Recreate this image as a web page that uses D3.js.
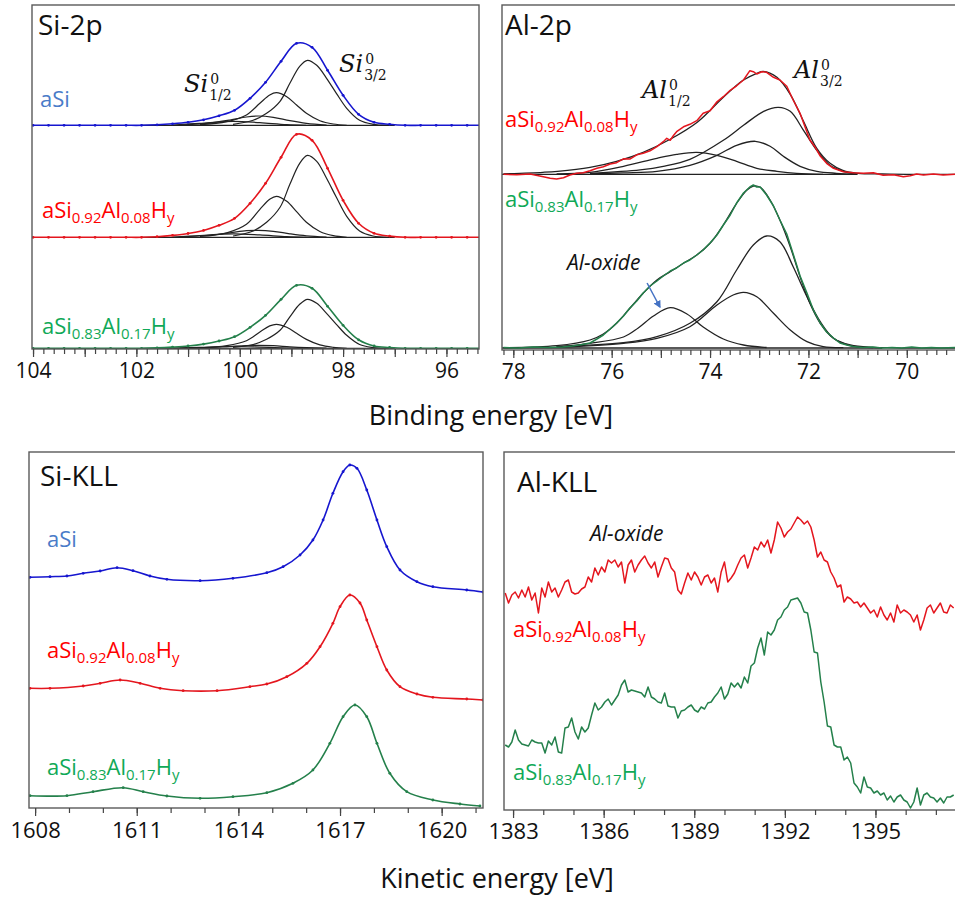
<!DOCTYPE html>
<html>
<head>
<meta charset="utf-8">
<script src="https://cdn.jsdelivr.net/npm/d3@7"></script>
<style>
  body { margin: 0; background: #fff; }
  text { font-family: "Open Sans", sans-serif; }
</style>
</head>
<body>
<div class="xps-viz"></div>
<script>
// ---------- Si-2p (binding energy, eV; intensity above each baseline, a.u.) ----------
const si2pEnergy = [104.0, 103.7, 103.4, 103.1, 102.8, 102.5, 102.2, 101.9, 101.6, 101.3, 101.0, 100.7, 100.4, 100.1, 99.8,
  99.5, 99.2, 98.9, 98.6, 98.3, 98.0, 97.7, 97.4, 97.1, 96.8, 96.5, 96.2, 95.9, 95.6, 95.3];
const si2pASi = [0, 0, 0, 0, 0, 0, 0, 0, 0.5, 1.5, 3, 5.5, 9.5, 15, 27, 43, 64, 82, 78, 55, 30, 11, 3, 1, 0, 0, 0, 0, 0, 0];
const si2pAl08 = [0, 0, 0, 0, 0, 0, 0, 0, 0.6, 1.9, 3.8, 6.9, 12, 19, 34, 54, 80, 103, 97, 69, 37, 14, 4, 1.2, 0, 0, 0, 0, 0, 0];
const si2pAl17 = [0, 0, 0, 0, 0, 0, 0, 0, 0.4, 1.2, 2.3, 4.2, 7.3, 11.6, 21, 33, 49, 63, 60, 42, 23, 8.5, 2.3, 0.8, 0, 0, 0, 0, 0, 0];
const si2pOffsets = [223.7, 111.7, 0.7];

const si32Energy = [100.13, 99.74, 99.48, 99.22, 99.03, 98.84, 98.69, 98.51, 98.32, 98.13, 97.93, 97.68, 97.42, 97.16];
const si32ASi = [1, 5, 12, 24, 42, 59, 65, 60, 47, 32, 17, 5, 1, 0];
const si32Al08 = [1.3, 6.3, 15, 30, 53, 74, 82, 76, 59, 40, 21, 6.3, 1.3, 0];
const si32Al17 = [0.8, 3.8, 9, 18, 31.5, 44, 49, 45, 35, 24, 13, 3.8, 0.8, 0];

const si12Energy = [100.77, 100.25, 99.87, 99.61, 99.42, 99.29, 99.09, 98.90, 98.71, 98.45, 98.19, 97.93];
const si12ASi = [0.6, 3.6, 10.3, 22, 30.3, 32.6, 28.6, 20.3, 12, 4.6, 1.3, 0];
const si12Al08 = [0.8, 4.5, 13, 28, 38, 41, 36, 25.6, 15, 5.8, 1.6, 0];
const si12Al17 = [0.4, 2.7, 7.6, 16.3, 22.4, 24, 21, 15, 8.9, 3.4, 1, 0];

const siMinorAEnergy = [101.16, 100.64, 100.19, 99.87, 99.64, 99.35, 99.03, 98.71, 98.32];
const siMinorAASi = [0.3, 2, 5.3, 8.3, 9.3, 8, 4.6, 2, 0.3];
const siMinorAAl08 = [0.3, 1.8, 4.5, 6.6, 7, 6, 3.5, 1.5, 0.3];
const siMinorAAl17 = [0.1, 0.8, 2, 2.8, 3, 2.6, 1.5, 0.7, 0.1];

const siMinorBEnergy = [101.29, 100.77, 100.13, 99.61, 99.09, 98.71];
const siMinorBASi = [0.3, 2, 4, 2.6, 0.6, 0];
const siMinorBAl08 = [0.3, 1.8, 3.5, 2.4, 0.6, 0];
const siMinorBAl17 = [0.2, 1, 1.8, 1.2, 0.3, 0];
const siFitBaseEnergy = [101.9, 97.0];

// ---------- Al-2p ----------
const al2pAl08Energy = [78.20, 77.93, 77.66, 77.39, 77.25, 77.12, 76.98, 76.85, 76.71, 76.58, 76.44, 76.30, 76.17, 76.03, 75.90,
  75.76, 75.63, 75.49, 75.36, 75.22, 75.08, 74.95, 74.88, 74.81, 74.74, 74.68, 74.54, 74.41, 74.27, 74.14, 74.00, 73.86, 73.73,
  73.59, 73.46, 73.32, 73.19, 73.12, 73.05, 72.95, 72.85, 72.71, 72.58, 72.44, 72.31, 72.17, 72.07, 71.97, 71.87, 71.76, 71.63,
  71.49, 71.29, 71.09, 70.88, 70.68, 70.48, 70.27, 70.07, 69.93, 69.80, 69.66, 69.46, 69.26, 69.02];
const al2pAl08 = [0, -0.4, 0.3, -2.4, -4, -4.7, -3.4, -0.7, 1, 1.6, 3.6, 6, 7.6, 10.3, 11.6, 15.5, 15.2, 19.5, 21, 23.5, 27.6,
  32.6, 36, 34, 39, 42.6, 47.5, 50, 53.6, 61, 63.5, 72.5, 77.6, 84, 88.5, 94.3, 103.6, 102.6, 100.3, 102.6, 102, 97, 94.3, 88,
  74.3, 61, 47.6, 34.3, 27.6, 18.3, 11, 6, 2.6, 1.6, 1, 1.6, -1, -0.4, -2.4, -1.4, 0.3, -0.7, 0.3, -0.7, 0];
const al2pAl08FitEnergy = [78.20, 77.40, 77.10, 76.44, 75.90, 75.36, 74.81, 74.26, 73.73, 73.33, 73.05, 72.92, 72.64, 72.37,
  72.10, 71.83, 71.56, 71.30, 71.00, 70.50, 70.00, 69.02];
const al2pAl08Fit = [0.5, 2, 3, 7, 13, 22, 35, 52, 77, 94, 101, 103, 97, 80, 53, 26, 11, 4, 1, 0.3, 0, 0];
const al32Al08Energy = [76.44, 75.42, 74.95, 74.41, 73.73, 73.32, 72.91, 72.61, 72.37, 72.10, 71.83, 71.56, 71.29, 71.02];
const al32Al08 = [1, 4.5, 8, 15, 34, 49, 63, 67, 63, 44, 24, 9, 3, 0];
const al12Al08Energy = [76.44, 75.76, 75.08, 74.41, 73.86, 73.46, 73.08, 72.78, 72.51, 72.17, 71.83, 71.43, 71.02];
const al12Al08 = [0.5, 1.5, 3, 9, 19, 29, 33, 28, 18, 8, 3, 1, 0];
const alOxAl08Energy = [77.12, 76.44, 75.76, 75.08, 74.68, 74.27, 73.86, 73.46, 73.05, 72.64, 72.24, 71.70];
const alOxAl08 = [0.5, 2, 8, 16, 20, 22, 19, 13, 6, 3, 1, 0];

const al2pAl17Energy = [78.20, 77.90, 77.60, 77.30, 77.00, 76.80, 76.60, 76.44, 76.30, 76.17, 76.03, 75.90, 75.76, 75.63, 75.49,
  75.36, 75.22, 75.08, 74.95, 74.81, 74.68, 74.54, 74.41, 74.27, 74.14, 74.00, 73.86, 73.73, 73.59, 73.46, 73.32, 73.19, 73.12,
  73.05, 72.98, 72.85, 72.71, 72.58, 72.44, 72.31, 72.17, 72.03, 71.90, 71.76, 71.63, 71.49, 71.36, 71.22, 71.09, 70.90, 70.70,
  70.50, 70.30, 70.10, 69.90, 69.70, 69.50, 69.30, 69.02];
const al2pAl17 = [0.5, 0, 1, 0.5, 1, 2, 3.5, 5, 9, 13, 19, 25, 32, 40, 47, 55, 62, 67, 72, 77, 80, 85, 88, 93, 98, 105, 113, 123,
  133, 145, 155, 161, 163, 161, 161, 153, 142, 128, 114, 94, 72, 55, 38, 25, 16, 10, 5, 3, 1.5, 0.5, 1, 0, 0.5, 0, 1, 0, 0.5, 0, 0.5];
const al2pAl17FitEnergy = [78.20, 77.12, 76.44, 76.17, 75.90, 75.63, 75.36, 75.08, 74.81, 74.54, 74.27, 74.00, 73.73, 73.46,
  73.25, 73.12, 72.98, 72.78, 72.58, 72.37, 72.17, 71.97, 71.76, 71.49, 71.15, 70.68, 69.02];
const al2pAl17Fit = [0.3, 2.3, 8, 14, 24.7, 39.7, 54.7, 68, 76.3, 84.7, 93, 104.7, 123, 144.7, 158, 162, 160.7, 148, 128, 101.3,
  71.3, 44.7, 24.7, 9.7, 3, 0.7, 0];
const al32Al17Energy = [77.12, 75.76, 75.08, 74.41, 73.86, 73.46, 73.12, 72.85, 72.58, 72.31, 72.03, 71.76, 71.49, 71.15, 70.68];
const al32Al17 = [1.3, 5.3, 11.3, 24.7, 46.3, 78, 103, 112, 106.3, 81.3, 51.3, 26.3, 9.7, 2.3, 0.3];
const al12Al17Energy = [77.12, 75.76, 75.08, 74.41, 73.86, 73.53, 73.32, 73.05, 72.71, 72.37, 72.03, 71.70, 71.29];
const al12Al17 = [0.7, 4.7, 9.7, 21.3, 43, 53, 55.7, 51.3, 34.7, 18, 6.3, 1.3, 0.3];
const alOxAl17Energy = [77.12, 76.44, 75.76, 75.46, 75.15, 74.81, 74.47, 74.14, 73.73, 73.32, 72.85];
const alOxAl17 = [1.3, 4.7, 11, 20, 32, 40.3, 34, 21, 9, 3, 0.5];
const al2pOffsets = [175.7, 2];

// ---------- Si-KLL (kinetic energy, eV; intensity a.u.) ----------
const siKllASiEnergy = [1607.85, 1608.44, 1608.94, 1609.42, 1609.92, 1610.42, 1610.89, 1611.39, 1611.89, 1612.87, 1613.84,
  1614.84, 1615.32, 1615.82, 1616.2, 1616.5, 1616.79, 1617.09, 1617.29, 1617.5, 1617.79, 1618.09, 1618.38, 1618.77, 1619.27,
  1619.74, 1620.74, 1621.22];
const siKllASi = [230.7, 231.3, 232, 234.7, 237, 240.3, 237.3, 232, 228.7, 227.3, 229.7, 235.3, 241.3, 253, 268, 288, 314.7,
  336.3, 343, 339.7, 318, 288, 261.3, 238, 226.3, 221.3, 218, 216];
const siKllAl08Energy = [1607.85, 1608.44, 1609.42, 1609.92, 1610.51, 1611.10, 1611.69, 1612.37, 1613.37, 1614.34, 1614.84,
  1615.43, 1616.02, 1616.41, 1616.79, 1617.00, 1617.29, 1617.59, 1617.79, 1618.09, 1618.38, 1618.77, 1619.27, 1619.74, 1620.74, 1621.22];
const siKllAl08 = [119.7, 119.7, 122, 124.7, 128, 124.7, 119.7, 117.3, 117.3, 121.3, 124, 131.3, 144.7, 161.3, 184.7, 201.3, 213,
  205, 188, 161.3, 138, 121.3, 114, 110.7, 109, 108];
const siKllAl17Energy = [1607.85, 1608.94, 1609.71, 1610.60, 1611.19, 1611.89, 1612.87, 1613.84, 1614.84, 1615.61, 1616.20,
  1616.70, 1617.09, 1617.44, 1617.79, 1618.09, 1618.47, 1618.97, 1619.74, 1620.54, 1621.13];
const siKllAl17 = [12.3, 12.3, 16.3, 20.3, 16.3, 12, 9.7, 11.3, 15.3, 24.7, 38, 64.7, 91.3, 103, 91.3, 64.7, 34.7, 16.3, 8, 4, 2];

// ---------- Al-KLL ----------
const alKllEnergy = [1382.74, 1382.85, 1382.96, 1383.07, 1383.18, 1383.29, 1383.40, 1383.51, 1383.62, 1383.73,
  1383.84, 1383.95, 1384.06, 1384.17, 1384.28, 1384.39, 1384.50, 1384.61, 1384.72, 1384.83,
  1384.94, 1385.05, 1385.16, 1385.27, 1385.38, 1385.49, 1385.60, 1385.71, 1385.82, 1385.93,
  1386.04, 1386.15, 1386.26, 1386.37, 1386.48, 1386.59, 1386.70, 1386.81, 1386.92, 1387.03,
  1387.14, 1387.25, 1387.36, 1387.47, 1387.58, 1387.69, 1387.80, 1387.91, 1388.02, 1388.13,
  1388.24, 1388.35, 1388.46, 1388.57, 1388.68, 1388.79, 1388.90, 1389.01, 1389.12, 1389.23,
  1389.34, 1389.45, 1389.56, 1389.67, 1389.78, 1389.89, 1390.00, 1390.11, 1390.22, 1390.33,
  1390.44, 1390.55, 1390.66, 1390.77, 1390.88, 1390.99, 1391.10, 1391.21, 1391.32, 1391.43,
  1391.54, 1391.65, 1391.76, 1391.87, 1391.98, 1392.09, 1392.20, 1392.31, 1392.42, 1392.53,
  1392.64, 1392.75, 1392.86, 1392.97, 1393.08, 1393.19, 1393.30, 1393.41, 1393.52, 1393.63,
  1393.74, 1393.85, 1393.96, 1394.07, 1394.18, 1394.29, 1394.40, 1394.51, 1394.62, 1394.73,
  1394.84, 1394.95, 1395.06, 1395.17, 1395.28, 1395.39, 1395.50, 1395.61, 1395.72, 1395.83,
  1395.94, 1396.05, 1396.16, 1396.27, 1396.38, 1396.49, 1396.60, 1396.71, 1396.82, 1396.93,
  1397.04, 1397.15, 1397.26, 1397.37, 1397.48, 1397.59];
const alKllAl08 = [217, 207, 215, 218, 212, 220, 213, 223, 210, 217, 197, 222, 213, 228, 218, 222, 213, 220, 228, 230,
  218, 216, 217, 221, 223, 233, 228, 242, 235, 243, 238, 250, 247, 250, 243, 248, 227, 245, 250, 238,
  245, 250, 254, 247, 242, 248, 233, 243, 252, 251, 242, 238, 220, 216, 227, 237, 230, 238, 233, 225,
  233, 235, 227, 232, 218, 238, 248, 228, 232, 237, 245, 252, 255, 242, 252, 263, 260, 268, 263, 270,
  257, 270, 288, 282, 273, 278, 281, 287, 293, 290, 286, 289, 283, 270, 253, 258, 250, 248, 238, 232,
  223, 225, 208, 213, 211, 207, 208, 203, 207, 202, 197, 200, 193, 203, 195, 190, 197, 188, 205, 197,
  200, 198, 195, 188, 195, 180, 190, 202, 205, 197, 202, 207, 198, 197, 205, 202];
const alKllAl17 = [65, 63, 68, 80, 70, 66, 65, 64, 70, 68, 67, 67, 57, 69, 65, 73, 58, 57, 82, 83,
  92, 78, 71, 83, 78, 82, 95, 107, 100, 103, 108, 111, 105, 110, 115, 125, 130, 118, 120, 119,
  118, 117, 113, 123, 113, 111, 108, 107, 117, 104, 103, 103, 92, 99, 100, 103, 105, 100, 98, 103,
  101, 107, 108, 113, 117, 123, 111, 116, 127, 123, 127, 122, 133, 127, 144, 147, 162, 172, 155, 178,
  175, 180, 190, 193, 200, 203, 210, 211, 212, 207, 198, 197, 180, 158, 157, 128, 108, 84, 83, 65,
  63, 63, 50, 53, 47, 27, 23, 17, 33, 23, 22, 17, 19, 15, 17, 10, 14, 8, 13, 15,
  10, 8, 2, 8, 22, 5, 15, 17, 13, 12, 8, 12, 7, 13, 13, 15];

// tick labels
const si2pTicks = [104, 102, 100, 98, 96];
const al2pTicks = [78, 76, 74, 72, 70];
const siKllTicks = [1608, 1611, 1614, 1617, 1620];
const alKllTicks = [1383, 1386, 1389, 1392, 1395];

const blue = "#1616cf", red = "#e4161e", green = "#24804b";
const labelBlue = "#4a7bc8", labelRed = "#ff0000", labelGreen = "#10a957";

const svg = d3.select(".xps-viz")
  .append("svg")
  .attr("width", 955)
  .attr("height", 901);

const pairs = (xs, ys) => xs.map((v, i) => [v, ys[i]]);

function makePanel(left, right, top, bottom, xDomain) {
  const x = d3.scaleLinear().domain(xDomain).range([left, right]);
  const y = d3.scaleLinear().domain([0, bottom - top]).range([bottom, top]);
  const id = "clip" + Math.round(left) + Math.round(top);
  svg.append("clipPath").attr("id", id)
    .append("rect").attr("x", left).attr("y", top).attr("width", right - left).attr("height", bottom - top);
  const g = svg.append("g").attr("clip-path", `url(#${id})`);
  return { x, y, g, left, right, top, bottom };
}

function curve(p, xs, ys, offset, color, width, smooth, dots) {
  const data = pairs(xs, ys);
  const line = d3.line()
    .x(d => p.x(d[0]))
    .y(d => p.y(d[1] + offset))
    .curve(smooth ? d3.curveCatmullRom.alpha(0.5) : d3.curveLinear);
  p.g.append("path")
    .datum(data)
    .attr("d", line)
    .attr("fill", "none")
    .attr("stroke", color)
    .attr("stroke-width", width)
    .attr("stroke-linejoin", "round");
  if (dots) {
    p.g.selectAll(null)
      .data(data)
      .enter()
      .append("circle")
      .attr("cx", d => p.x(d[0]))
      .attr("cy", d => p.y(d[1] + offset))
      .attr("r", 1.4)
      .attr("fill", color);
  }
}

function frame(p, right) {
  svg.append("rect")
    .attr("x", p.left).attr("y", p.top)
    .attr("width", (right || p.right) - p.left).attr("height", p.bottom - p.top)
    .attr("fill", "none").attr("stroke", "#5a5a5a").attr("stroke-width", 1.4);
}

function axis(p, minor, major, labels, fontSize, pad) {
  const a = svg.append("g").attr("transform", `translate(0,${p.bottom})`);
  a.append("g").call(d3.axisBottom(p.x).tickValues(minor).tickSize(5).tickFormat(""));
  a.append("g").call(d3.axisBottom(p.x).tickValues(major).tickSize(8).tickFormat(""));
  a.append("g").call(d3.axisBottom(p.x).tickValues(labels).tickSize(0).tickPadding(pad).tickFormat(d3.format("d")))
    .selectAll("text")
    .style("font-size", fontSize + "px")
    .style("font-family", '"Open Sans", sans-serif')
    .attr("fill", "#111");
  a.selectAll(".domain").remove();
  a.selectAll("line").attr("stroke", "#444").attr("stroke-width", 1.2);
}

function title(xp, yp, txt) {
  svg.append("text").attr("x", xp).attr("y", yp).style("font-size", "28px").attr("fill", "#111").text(txt);
}

// sample label like aSi0.92Al0.08Hy with subscripts
function sample(xp, yp, parts, color) {
  const t = svg.append("text").attr("x", xp).attr("y", yp).attr("fill", color).style("font-size", "22px");
  let low = false;
  parts.forEach(([s, sub]) => {
    const dy = sub && !low ? 5 : (!sub && low ? -5 : 0);
    low = sub;
    t.append("tspan").attr("dy", dy).style("font-size", sub ? "15px" : "22px").text(s);
  });
}
const labelASi = [["aSi", false]];
const labelAl08 = [["aSi", false], ["0.92", true], ["Al", false], ["0.08", true], ["H", false], ["y", true]];
const labelAl17 = [["aSi", false], ["0.83", true], ["Al", false], ["0.17", true], ["H", false], ["y", true]];

// peak label like Si^0_{1/2}: one text, sup and sub stacked with tspans
function peakName(xp, yp, base, sub) {
  const t = svg.append("text").attr("x", xp).attr("y", yp)
    .style("font-family", '"DejaVu Serif", serif').attr("fill", "#111");
  t.append("tspan").style("font-style", "italic").style("font-size", "24px").text(base);
  const w = t.node().getComputedTextLength();
  t.append("tspan").attr("x", xp + w + 2).attr("dy", -8).style("font-size", "14px").text("0");
  t.append("tspan").attr("x", xp + w + 1).attr("dy", 16).style("font-size", "14px").text(sub);
}

function italicNote(xp, yp, txt) {
  svg.append("text").attr("x", xp).attr("y", yp).style("font-size", "21px").style("font-style", "italic")
    .attr("fill", "#111").text(txt);
}

// ---------------- Si-2p ----------------
const pA = makePanel(32, 479, 5, 349, [104.02, 95.37]);
const siComps = [
  [si32ASi, si12ASi, siMinorAASi, siMinorBASi],
  [si32Al08, si12Al08, siMinorAAl08, siMinorBAl08],
  [si32Al17, si12Al17, siMinorAAl17, siMinorBAl17]
];
const siCompEnergy = [si32Energy, si12Energy, siMinorAEnergy, siMinorBEnergy];
const siTotals = [si2pASi, si2pAl08, si2pAl17];
[blue, red, green].forEach((c, i) => {
  curve(pA, siFitBaseEnergy, [0, 0], si2pOffsets[i], "#222", 1.2, false, false);
  siComps[i].forEach((comp, j) => curve(pA, siCompEnergy[j], comp, si2pOffsets[i], "#222", 1.2, true, false));
  curve(pA, si2pEnergy, siTotals[i], si2pOffsets[i], c, 1.6, true, true);
});
frame(pA);
axis(pA, d3.range(477, 521).map(d => d / 5), d3.range(96, 105), si2pTicks, 21, 14);
title(38, 35, "Si-2p");
sample(40, 107, labelASi, labelBlue);
sample(42, 218, labelAl08, labelRed);
sample(42, 334, labelAl17, labelGreen);
peakName(184, 92, "Si", "1/2");
peakName(339, 72, "Si", "3/2");

// ---------------- Al-2p ----------------
const pB = makePanel(502, 955, 5, 350, [78.23, 69.02]);
curve(pB, alOxAl08Energy, alOxAl08, al2pOffsets[0], "#222", 1.3, true, false);
curve(pB, al12Al08Energy, al12Al08, al2pOffsets[0], "#222", 1.3, true, false);
curve(pB, al32Al08Energy, al32Al08, al2pOffsets[0], "#222", 1.3, true, false);
curve(pB, [78.23, 71.0], [0, 0], al2pOffsets[0], "#222", 1.3, false, false);
curve(pB, al2pAl08FitEnergy, al2pAl08Fit, al2pOffsets[0], "#222", 1.3, true, false);
curve(pB, al2pAl08Energy, al2pAl08, al2pOffsets[0], red, 1.5, false, false);

curve(pB, alOxAl17Energy, alOxAl17, al2pOffsets[1], "#222", 1.3, true, false);
curve(pB, al12Al17Energy, al12Al17, al2pOffsets[1], "#222", 1.3, true, false);
curve(pB, al32Al17Energy, al32Al17, al2pOffsets[1], "#222", 1.3, true, false);
curve(pB, [78.23, 70.5], [0, 0], al2pOffsets[1], "#222", 1.3, false, false);
curve(pB, al2pAl17FitEnergy, al2pAl17Fit, al2pOffsets[1], "#222", 1.3, true, false);
curve(pB, al2pAl17Energy, al2pAl17, al2pOffsets[1], green, 1.5, false, false);
frame(pB, 960);
axis(pB, d3.range(346, 392).map(d => d / 5), d3.range(69, 79), al2pTicks, 21, 14);
title(505, 35, "Al-2p");
sample(505, 127, labelAl08, labelRed);
sample(505, 207, labelAl17, labelGreen);
peakName(642, 98, "Al", "1/2");
peakName(794, 78, "Al", "3/2");
italicNote(567, 270, "Al-oxide");

// arrow to the oxide component
svg.append("defs").append("marker")
  .attr("id", "arrowHead").attr("viewBox", "0 0 10 10").attr("refX", 8).attr("refY", 5)
  .attr("markerWidth", 5).attr("markerHeight", 5).attr("orient", "auto")
  .append("path").attr("d", "M0,0 L10,5 L0,10 z").attr("fill", "#4472c4");
svg.append("line")
  .attr("x1", pB.x(75.28)).attr("y1", pB.y(67))
  .attr("x2", pB.x(75.02)).attr("y2", pB.y(43))
  .attr("stroke", "#4472c4").attr("stroke-width", 1.5)
  .attr("marker-end", "url(#arrowHead)");

svg.append("text").attr("x", 491).attr("y", 425).attr("text-anchor", "middle")
  .style("font-size", "27px").attr("fill", "#111").text("Binding energy [eV]");

// ---------------- Si-KLL ----------------
const pC = makePanel(29, 483, 452, 808, [1607.82, 1621.22]);
curve(pC, siKllASiEnergy, siKllASi, 0, blue, 1.6, true, true);
curve(pC, siKllAl08Energy, siKllAl08, 0, red, 1.6, true, true);
curve(pC, siKllAl17Energy, siKllAl17, 0, green, 1.6, true, true);
frame(pC);
axis(pC, d3.range(1608, 1622), siKllTicks, siKllTicks, 22, 14);
title(40, 486, "Si-KLL");
sample(47, 547, labelASi, labelBlue);
sample(47, 658, labelAl08, labelRed);
sample(47, 775, labelAl17, labelGreen);

// ---------------- Al-KLL ----------------
const pD = makePanel(504, 957, 452, 810, [1382.70, 1397.70]);
curve(pD, alKllEnergy, alKllAl08, 0, red, 1.5, false, false);
curve(pD, alKllEnergy, alKllAl17, 0, green, 1.5, false, false);
frame(pD, 960);
axis(pD, d3.range(1383, 1398), alKllTicks, alKllTicks, 22, 13);
title(517, 492, "Al-KLL");
italicNote(590, 541, "Al-oxide");
sample(513, 637, labelAl08, labelRed);
sample(513, 780, labelAl17, labelGreen);

svg.append("text").attr("x", 497).attr("y", 888).attr("text-anchor", "middle")
  .style("font-size", "27px").attr("fill", "#111").text("Kinetic energy [eV]");
</script>
</body>
</html>
